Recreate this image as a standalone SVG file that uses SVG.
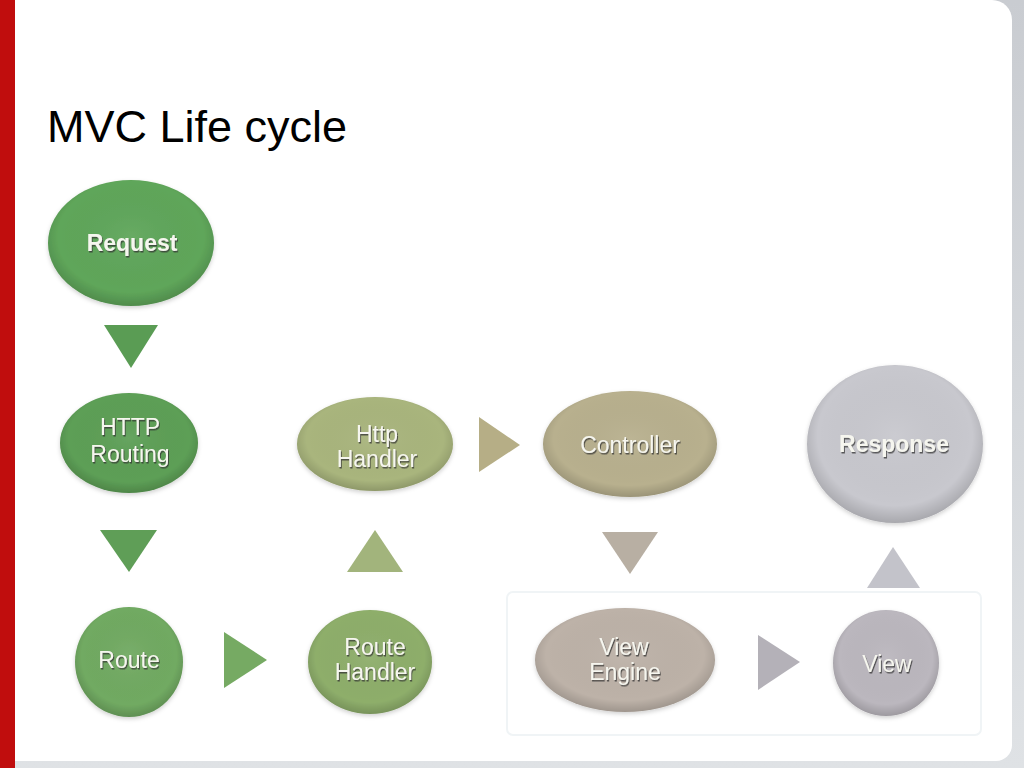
<svg xmlns="http://www.w3.org/2000/svg" width="1024" height="768" viewBox="0 0 1024 768">
  <defs>
    <linearGradient id="bg" x1="0" y1="0" x2="0" y2="1">
      <stop offset="0" stop-color="#c9ccd1"/>
      <stop offset="1" stop-color="#dfe2e5"/>
    </linearGradient>
    <radialGradient id="shade" cx="0.5" cy="0.45" r="0.55">
      <stop offset="0" stop-color="#ffffff" stop-opacity="0.06"/>
      <stop offset="0.8" stop-color="#000000" stop-opacity="0"/>
      <stop offset="1" stop-color="#000000" stop-opacity="0.16"/>
    </radialGradient>
    <filter id="soft" x="-20%" y="-20%" width="140%" height="150%">
      <feDropShadow dx="0" dy="2" stdDeviation="2" flood-color="#000000" flood-opacity="0.18"/>
    </filter>
    <filter id="ts" x="-10%" y="-30%" width="120%" height="160%">
      <feDropShadow dx="1" dy="1.5" stdDeviation="0.7" flood-color="#333333" flood-opacity="0.75"/>
    </filter>
    <style>
      .lbl { font-family: "Liberation Sans", Arial, sans-serif; font-size: 23px; fill: #f6f6ef; text-anchor: middle; filter: url(#ts); }
      .bold { font-weight: bold; }
      .title { font-family: "Liberation Sans", Arial, sans-serif; font-size: 45px; fill: #000000; }
      .shade { fill: url(#shade); }
      .node { filter: url(#soft); }
    </style>
  </defs>

  <!-- background / slide frame -->
  <rect x="0" y="0" width="1024" height="768" fill="url(#bg)"/>
  <path d="M15 0 H992 A20 20 0 0 1 1012 20 V745 A16 16 0 0 1 996 761 H15 Z" fill="#ffffff"/>
  <rect x="0" y="0" width="15" height="768" fill="#c00d0d"/>

  <text class="title" x="47" y="142">MVC Life cycle</text>

  <!-- faint frame around View Engine / View -->
  <rect x="507" y="592" width="474" height="143" rx="6" fill="none" stroke="#f0f4f6" stroke-width="2"/>

  <g id="connectors">
    <polygon points="104,325 158,325 131,368" fill="#5a9c54"/>
    <polygon points="100,530 157,530 129,572" fill="#5f9e57"/>
    <polygon points="224,632 224,688 267,660" fill="#76aa63"/>
    <polygon points="347,572 403,572 375,530" fill="#a2b47c"/>
    <polygon points="479,417 479,472 520,445" fill="#b6ae86"/>
    <polygon points="602,532 658,532 630,574" fill="#b8afa3"/>
    <polygon points="758,635 758,690 800,662" fill="#b4b1b8"/>
    <polygon points="867,588 920,588 893,547" fill="#c3c3ca"/>
  </g>

  <g id="node-request" class="node">
    <ellipse cx="131" cy="243" rx="83" ry="63" fill="#5fa65a"/>
    <ellipse cx="131" cy="243" rx="83" ry="63" class="shade"/>
    <text class="lbl bold" x="132" y="251" font-size="24">Request</text>
  </g>

  <g id="node-http-routing" class="node">
    <ellipse cx="129" cy="443" rx="69" ry="50" fill="#5d9f56"/>
    <ellipse cx="129" cy="443" rx="69" ry="50" class="shade"/>
    <text class="lbl" x="130" y="435">HTTP</text>
    <text class="lbl" x="130" y="462">Routing</text>
  </g>

  <g id="node-route" class="node">
    <ellipse cx="129" cy="662" rx="54" ry="55" fill="#71aa62"/>
    <ellipse cx="129" cy="662" rx="54" ry="55" class="shade"/>
    <text class="lbl" x="129" y="668">Route</text>
  </g>

  <g id="node-route-handler" class="node">
    <ellipse cx="370" cy="662" rx="62" ry="52" fill="#8eae6b"/>
    <ellipse cx="370" cy="662" rx="62" ry="52" class="shade"/>
    <text class="lbl" x="375" y="655">Route</text>
    <text class="lbl" x="375" y="680">Handler</text>
  </g>

  <g id="node-http-handler" class="node">
    <ellipse cx="375" cy="444" rx="78" ry="47" fill="#a9b57d"/>
    <ellipse cx="375" cy="444" rx="78" ry="47" class="shade"/>
    <text class="lbl" x="377" y="442">Http</text>
    <text class="lbl" x="377" y="467">Handler</text>
  </g>

  <g id="node-controller" class="node">
    <ellipse cx="630" cy="444" rx="87" ry="53" fill="#b8b08e"/>
    <ellipse cx="630" cy="444" rx="87" ry="53" class="shade"/>
    <text class="lbl" x="630" y="453">Controller</text>
  </g>

  <g id="node-view-engine" class="node">
    <ellipse cx="625" cy="660" rx="90" ry="52" fill="#bdb2a8"/>
    <ellipse cx="625" cy="660" rx="90" ry="52" class="shade"/>
    <text class="lbl" x="624" y="655">View</text>
    <text class="lbl" x="625" y="680">Engine</text>
  </g>

  <g id="node-view" class="node">
    <ellipse cx="886" cy="663" rx="53" ry="53" fill="#bbb7be"/>
    <ellipse cx="886" cy="663" rx="53" ry="53" class="shade"/>
    <text class="lbl" x="887" y="672">View</text>
  </g>

  <g id="node-response" class="node">
    <ellipse cx="895" cy="444" rx="88" ry="79" fill="#c8c8ce"/>
    <ellipse cx="895" cy="444" rx="88" ry="79" class="shade"/>
    <text class="lbl bold" x="894" y="452" font-size="24">Response</text>
  </g>
</svg>
